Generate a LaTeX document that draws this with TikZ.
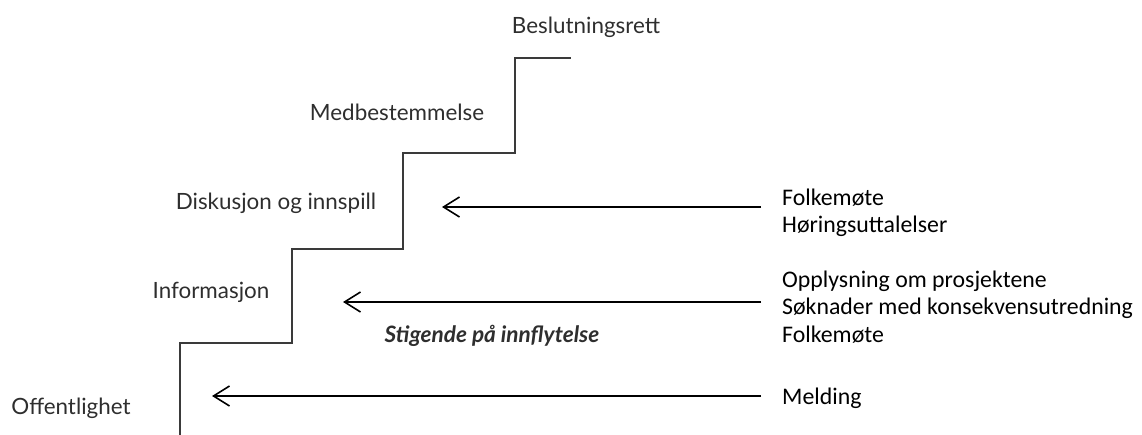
\documentclass[tikz,border=0pt]{standalone}
\usepackage{fontspec}
\setmainfont{Carlito}
\newfontfamily\stairfont{Lato}
\usetikzlibrary{arrows.meta}
\definecolor{stairgray}{HTML}{3A3A3A}
\definecolor{labelgray}{HTML}{2E2E2E}
\begin{document}
\begin{tikzpicture}[x=1pt,y=-1pt,
  stairline/.style={draw=stairgray,line width=1.8pt,line join=miter},
  levellabel/.style={inner sep=0pt,text=labelgray,font=\stairfont\fontsize{22.4}{26}\selectfont},
  sourcetext/.style={inner sep=0pt,anchor=west,align=left,text=black,font=\fontsize{23.8}{27.5}\selectfont},
  inflow/.style={draw=black,line width=1.6pt,-{Straight Barb[length=16pt,width=20pt,line width=1.6pt]}}]
\useasboundingbox (0,0) rectangle (1142,435);
% staircase corners
\coordinate (s0) at (180,435);
\coordinate (s1) at (180,343);
\coordinate (s2) at (292,343);
\coordinate (s3) at (292,249);
\coordinate (s4) at (403,249);
\coordinate (s5) at (403,153);
\coordinate (s6) at (515,153);
\coordinate (s7) at (515,58);
\coordinate (s8) at (571,58);
\draw[stairline] (s0) -- (s1) -- (s2) -- (s3) -- (s4) -- (s5) -- (s6) -- (s7) -- (s8);
% level labels
\node[levellabel] (beslut) at (586,27) {Beslutningsrett};
\node[levellabel] (medbest) at (397,112) {Medbestemmelse};
\node[levellabel] (disk) at (276,203) {Diskusjon og innspill};
\node[levellabel] (info) at (211,292) {Informasjon};
\node[levellabel] (offent) at (71,408) {Offentlighet};
\node[levellabel,font=\stairfont\bfseries\itshape\fontsize{22.6}{26}\selectfont] (stig) at (492,336) {Stigende på innflytelse};
% right texts
\node[sourcetext] (g1) at (782,213) {Folkemøte\\Høringsuttalelser};
\node[sourcetext] (g2) at (782,307) {Opplysning om prosjektene\\Søknader med konsekvensutredning\\Folkemøte};
\node[sourcetext] (g3) at (782,398) {Melding};
% arrow ends
\coordinate (a1s) at (761,207);
\coordinate (a1e) at (442,207);
\coordinate (a2s) at (761,302);
\coordinate (a2e) at (343,302);
\coordinate (a3s) at (761,396);
\coordinate (a3e) at (212,396);
\draw[inflow] (a1s) -- (a1e);
\draw[inflow] (a2s) -- (a2e);
\draw[inflow] (a3s) -- (a3e);
\end{tikzpicture}
\end{document}
